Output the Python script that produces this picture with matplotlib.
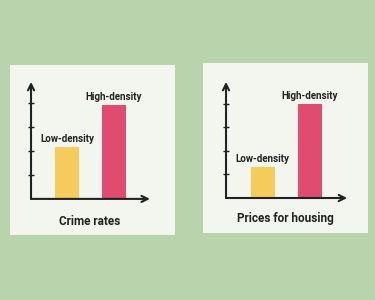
import matplotlib.pyplot as plt
from matplotlib.patches import Rectangle

categories = ['Low-density', 'High-density']
crime_values = [2.15, 3.9]
housing_values = [1.3, 4.0]
titles = ['Crime rates', 'Prices for housing']

bg = '#b9d4ad'
panel_col = '#f2f6ef'
bar_cols = ['#f5cb5c', '#e04b70']
ink = '#222222'

plt.rcParams['font.family'] = ['Roboto', 'DejaVu Sans']

fig = plt.figure(figsize=(3.75, 3.0), dpi=100)
fig.patch.set_facecolor(bg)

# panel boxes (figure fractions)
panels = [(0.027, 0.217, 0.44, 0.567), (0.541, 0.223, 0.44, 0.567)]
axes_pos = [(0.0827, 0.337, 0.317, 0.39), (0.6027, 0.34, 0.323, 0.387)]
xlims = [(-0.766, 1.766), (-0.777, 1.80)]
ylims = [4.875, 4.94]
title_pos = [(0.24, 0.263), (0.761, 0.273)]
data = [crime_values, housing_values]

for i in range(2):
    fig.add_artist(Rectangle(panels[i][:2], panels[i][2], panels[i][3],
                             transform=fig.transFigure, facecolor=panel_col,
                             edgecolor='none', zorder=-1))
    ax = fig.add_axes(axes_pos[i])
    ax.set_zorder(2)
    ax.set_facecolor('none')
    ax.bar([0, 1], data[i], width=0.51, color=bar_cols)
    ax.set_xlim(*xlims[i])
    ax.set_ylim(0, ylims[i])
    for s in ax.spines.values():
        s.set_visible(False)
    ax.set_xticks([])
    ax.set_yticks([1, 2, 3, 4])
    ax.tick_params(axis='y', direction='inout', length=5, width=1,
                   color=ink, labelleft=False)
    ax.annotate('', xy=(0, 1.0), xytext=(0, 0), xycoords='axes fraction',
                arrowprops=dict(arrowstyle='->', color=ink, lw=1.5,
                                shrinkA=0, shrinkB=0, mutation_scale=11))
    ax.annotate('', xy=(1.0, 0), xytext=(0, 0), xycoords='axes fraction',
                arrowprops=dict(arrowstyle='->', color=ink, lw=1.5,
                                shrinkA=0, shrinkB=0, mutation_scale=11))
    for j in range(2):
        ax.annotate(categories[j], xy=(j, data[i][j]), xytext=(0, 2.5),
                    textcoords='offset points', ha='center', va='bottom',
                    fontsize=7, fontweight='bold', color=ink)
    fig.text(title_pos[i][0], title_pos[i][1], titles[i], ha='center',
             va='center', fontsize=8.5, fontweight='bold', color=ink)

fig.savefig('out.png', dpi=100, facecolor=bg)
